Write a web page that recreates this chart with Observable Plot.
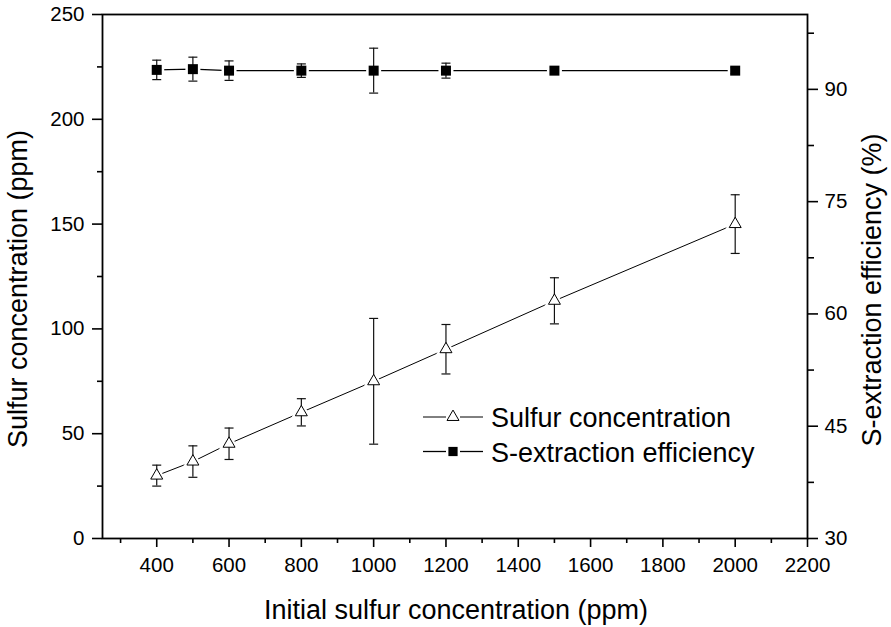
<!DOCTYPE html>
<html>
<head>
<meta charset="utf-8">
<script src="https://cdn.jsdelivr.net/npm/d3@7"></script>
<script src="https://cdn.jsdelivr.net/npm/@observablehq/plot@0.6"></script>
<style>
  html, body { margin: 0; padding: 0; background: #fff; }
  #chart { width: 891px; height: 627px; }
</style>
</head>
<body>
<div id="chart"></div>
<script>
// ---- data ----
const initialConc = [400, 500, 600, 800, 1000, 1200, 1500, 2000];
const sulfurConc = [30, 36.7, 45.2, 60.2, 75, 90.3, 113.4, 150];
const sulfurErr = [5, 7.5, 7.5, 6.5, 30, 11.8, 11, 14];
const extractionEff = [92.6, 92.7, 92.5, 92.5, 92.5, 92.5, 92.5, 92.5];
const extractionErr = [1.3, 1.6, 1.3, 0.9, 3.0, 1.0, 0.4, 0.4];

const xMajorTicks = [400, 600, 800, 1000, 1200, 1400, 1600, 1800, 2000, 2200];
const xMinorTicks = [300, 500, 700, 900, 1100, 1300, 1500, 1700, 1900, 2100];
const yLeftMajor = [0, 50, 100, 150, 200, 250];
const yLeftMinor = [25, 75, 125, 175, 225];
const yRightMajor = [30, 45, 60, 75, 90];
const yRightMinor = [37.5, 52.5, 67.5, 82.5, 97.5];

const leftDomain = [0, 250];
const rightDomain = [30, 100];
const toLeft = v => leftDomain[0] + (v - rightDomain[0]) * (leftDomain[1] - leftDomain[0]) / (rightDomain[1] - rightDomain[0]);
const fromLeft = v => rightDomain[0] + (v - leftDomain[0]) * (rightDomain[1] - rightDomain[0]) / (leftDomain[1] - leftDomain[0]);

const sulfurRows = initialConc.map((x, i) => ({x, y: sulfurConc[i], lo: sulfurConc[i] - sulfurErr[i], hi: sulfurConc[i] + sulfurErr[i]}));
const effRows = initialConc.map((x, i) => ({x, y: toLeft(extractionEff[i]), lo: toLeft(extractionEff[i] - extractionErr[i]), hi: toLeft(extractionEff[i] + extractionErr[i])}));

const capSymbol = {
  draw(ctx, size) {
    const w = Math.sqrt(size);
    ctx.moveTo(-w / 2, 0);
    ctx.lineTo(w / 2, 0);
  }
};

const FONT = "'Liberation Sans', Arial, Helvetica, sans-serif";
const capR = 9 / Math.sqrt(Math.PI);

const plot = Plot.plot({
  width: 891,
  height: 627,
  marginLeft: 102,
  marginRight: 84,
  marginTop: 14,
  marginBottom: 89,
  style: {fontFamily: FONT, fontSize: "20.5px", color: "black", background: "white"},
  x: {type: "linear", domain: [250, 2200]},
  y: {type: "linear", domain: leftDomain},
  marks: [
    Plot.frame({stroke: "black", strokeWidth: 1.8}),
    Plot.axisX(xMajorTicks, {tickSize: 9, tickPadding: 10, strokeWidth: 1.6, tickFormat: d => String(d), label: null}),
    Plot.axisX(xMinorTicks, {tickSize: 5, strokeWidth: 1.6, tickFormat: () => "", label: null}),
    Plot.axisY(yLeftMajor, {anchor: "left", tickSize: 10, tickPadding: 8, strokeWidth: 1.6, tickFormat: d => String(d), label: null}),
    Plot.axisY(yLeftMinor, {anchor: "left", tickSize: 5, strokeWidth: 1.6, tickFormat: () => "", label: null}),
    Plot.axisY(yRightMajor.map(toLeft), {anchor: "right", tickSize: 10, tickPadding: 7, strokeWidth: 1.6, tickFormat: d => String(Math.round(fromLeft(d))), label: null}),
    Plot.axisY(yRightMinor.map(toLeft), {anchor: "right", tickSize: 6, strokeWidth: 1.6, tickFormat: () => "", label: null}),
    // connecting lines
    Plot.line(sulfurRows, {x: "x", y: "y", stroke: "black", strokeWidth: 1}),
    Plot.line(effRows, {x: "x", y: "y", stroke: "black", strokeWidth: 1.3}),
    // white halos to break the lines around markers
    Plot.dot(sulfurRows, {x: "x", y: "y", symbol: "triangle", r: 4.45, fill: "white", stroke: "white", strokeWidth: 5}),
    Plot.dot(effRows, {x: "x", y: "y", symbol: "square", r: 5.64, fill: "white", stroke: "white", strokeWidth: 5}),
    // error bars
    Plot.ruleX(sulfurRows, {x: "x", y1: "lo", y2: "hi", stroke: "#111", strokeWidth: 1.2}),
    Plot.dot(sulfurRows, {x: "x", y: "lo", symbol: capSymbol, r: capR, fill: "none", stroke: "#111", strokeWidth: 1.2}),
    Plot.dot(sulfurRows, {x: "x", y: "hi", symbol: capSymbol, r: capR, fill: "none", stroke: "#111", strokeWidth: 1.2}),
    Plot.ruleX(effRows, {x: "x", y1: "lo", y2: "hi", stroke: "#111", strokeWidth: 1.2}),
    Plot.dot(effRows, {x: "x", y: "lo", symbol: capSymbol, r: capR, fill: "none", stroke: "#111", strokeWidth: 1.2}),
    Plot.dot(effRows, {x: "x", y: "hi", symbol: capSymbol, r: capR, fill: "none", stroke: "#111", strokeWidth: 1.2}),
    // markers
    Plot.dot(sulfurRows, {x: "x", y: "y", symbol: "triangle", r: 4.45, fill: "white", stroke: "black", strokeWidth: 1}),
    Plot.dot(effRows, {x: "x", y: "y", symbol: "square", r: 5.64, fill: "black", stroke: "none"})
  ]
});

document.getElementById("chart").appendChild(plot);

// ---- axis titles and legend ----
const svg = d3.select(plot);
const g = svg.append("g").attr("font-family", FONT).attr("fill", "black").attr("font-size", 27);

g.append("text").attr("x", 456).attr("y", 619).attr("text-anchor", "middle")
  .text("Initial sulfur concentration (ppm)");
g.append("text").attr("transform", "translate(27,289) rotate(-90)").attr("text-anchor", "middle")
  .text("Sulfur concentration (ppm)");
g.append("text").attr("transform", "translate(881,290) rotate(-90)").attr("text-anchor", "middle")
  .text("S-extraction efficiency (%)");

const legendItems = [
  {label: "Sulfur concentration", symbol: d3.symbolTriangle, r: 4.45, fill: "white", stroke: "black", lw: 1},
  {label: "S-extraction efficiency", symbol: d3.symbolSquare, r: 5.2, fill: "black", stroke: "none", lw: 1.3}
];
const leg = svg.append("g").attr("font-family", FONT).attr("font-size", 27).attr("text-anchor", "start");
legendItems.forEach((it, i) => {
  const cy = 417 + i * 34.5;
  const row = leg.append("g").attr("transform", `translate(0,${cy})`);
  row.append("line").attr("x1", 423).attr("x2", 446).attr("y1", 0).attr("y2", 0).attr("stroke", "black").attr("stroke-width", it.lw);
  row.append("line").attr("x1", 460).attr("x2", 483).attr("y1", 0).attr("y2", 0).attr("stroke", "black").attr("stroke-width", it.lw);
  row.append("path").attr("transform", "translate(453,0)")
    .attr("d", d3.symbol(it.symbol, it.r * it.r * Math.PI)())
    .attr("fill", it.fill).attr("stroke", it.stroke).attr("stroke-width", 1);
  row.append("text").attr("x", 491).attr("y", 10).attr("text-anchor", "start").attr("fill", "black").text(it.label);
});
</script>
</body>
</html>
